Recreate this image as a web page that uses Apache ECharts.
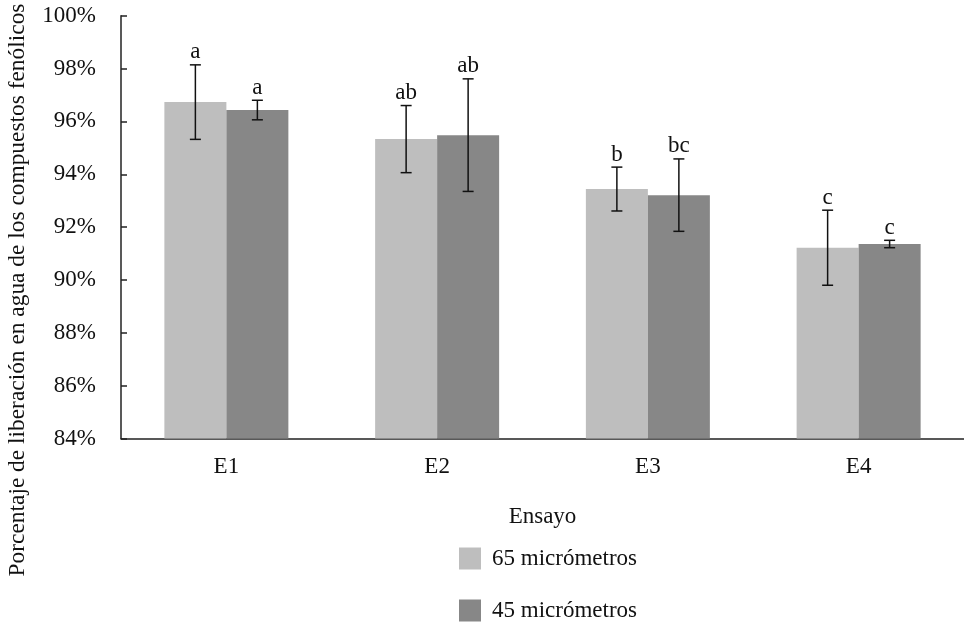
<!DOCTYPE html>
<html>
<head>
<meta charset="utf-8">
<script src="https://cdn.jsdelivr.net/npm/echarts@6/dist/echarts.min.js"></script>
<style>
  html, body { margin: 0; padding: 0; background: #fff; }
  #chart { width: 964px; height: 623px; }
</style>
</head>
<body>
<div id="chart"></div>
<script>
// Ensayos y medias de liberación (%) con su desviación
const categories = ['E1', 'E2', 'E3', 'E4'];
const series65 = [96.73, 95.33, 93.44, 91.22];
const error65 = [1.41, 1.27, 0.83, 1.42];
const letters65 = ['a', 'ab', 'b', 'c'];
const series45 = [96.43, 95.48, 93.21, 91.36];
const error45 = [0.37, 2.13, 1.37, 0.14];
const letters45 = ['a', 'ab', 'bc', 'c'];
const yTicks = [84, 86, 88, 90, 92, 94, 96, 98, 100];

const FONT = '"Liberation Serif", "DejaVu Serif", serif';
const BAR_W = 62;
const FS = 23;

function errorSeries(name, means, errs, letters, offset) {
  return {
    name: name + ' error',
    type: 'custom',
    z: 5,
    data: means.map((m, i) => [i, m, errs[i], letters[i]]),
    encode: { x: 0, y: 1 },
    renderItem: function (params, api) {
      const i = api.value(0);
      const m = api.value(1);
      const e = api.value(2);
      const letter = letters[i];
      const top = api.coord([i, m + e]);
      const bot = api.coord([i, m - e]);
      const x = top[0] + offset;
      const cap = 5.5;
      const st = { stroke: '#111', lineWidth: 1.5 };
      return {
        type: 'group',
        children: [
          { type: 'line', shape: { x1: x, y1: top[1], x2: x, y2: bot[1] }, style: st },
          { type: 'line', shape: { x1: x - cap, y1: top[1], x2: x + cap, y2: top[1] }, style: st },
          { type: 'line', shape: { x1: x - cap, y1: bot[1], x2: x + cap, y2: bot[1] }, style: st },
          {
            type: 'text',
            style: {
              text: letter, x: x, y: top[1] - 1,
              textAlign: 'center', textVerticalAlign: 'bottom',
              align: 'center', verticalAlign: 'bottom',
              fill: '#111', font: FS + 'px ' + FONT
            }
          }
        ]
      };
    },
    tooltip: { show: false }
  };
}

function legendItem(name, top) {
  return {
    data: [name],
    orient: 'vertical',
    left: 454, top: top,
    itemWidth: 22, itemHeight: 22,
    icon: 'rect',
    textStyle: { fontFamily: FONT, fontSize: FS, color: '#111', padding: [0, 0, 0, 6] }
  };
}

const chart = echarts.init(document.getElementById('chart'), null, { renderer: 'canvas' });
chart.setOption({
  animation: false,
  backgroundColor: '#ffffff',
  textStyle: { fontFamily: FONT },
  grid: { left: 121, top: 15.7, width: 847, height: 422.8, containLabel: false },
  legend: [
    legendItem('65 micrómetros', 542),
    legendItem('45 micrómetros', 594)
  ],
  xAxis: {
    type: 'category',
    data: categories,
    name: 'Ensayo',
    nameLocation: 'middle',
    nameGap: 67,
    nameTextStyle: { fontFamily: FONT, fontSize: FS, color: '#111' },
    axisLine: { lineStyle: { color: '#222', width: 1.5 } },
    axisTick: { show: false },
    axisLabel: { fontFamily: FONT, fontSize: FS, color: '#111', margin: 17 }
  },
  yAxis: {
    type: 'value',
    min: yTicks[0], max: yTicks[yTicks.length - 1], interval: 2,
    axisLine: { show: true, lineStyle: { color: '#222', width: 1.5 } },
    axisTick: { show: true, inside: true, length: 6, lineStyle: { color: '#222', width: 1.5 } },
    splitLine: { show: false },
    axisLabel: { fontFamily: FONT, fontSize: FS, color: '#111', margin: 25, formatter: v => v + '%' }
  },
  graphic: [{
    type: 'text',
    x: 18, y: 290,
    rotation: Math.PI / 2,
    style: {
      text: 'Porcentaje de liberación en agua de los compuestos fenólicos',
      textAlign: 'center', textVerticalAlign: 'middle',
      align: 'center', verticalAlign: 'middle',
      fill: '#111', font: '23.4px ' + FONT
    }
  }],
  series: [
    {
      name: '65 micrómetros', type: 'bar', data: series65,
      barWidth: BAR_W, barGap: '0%',
      itemStyle: { color: '#bebebe' }
    },
    {
      name: '45 micrómetros', type: 'bar', data: series45,
      barWidth: BAR_W, barGap: '0%',
      itemStyle: { color: '#878787' }
    },
    errorSeries('65', series65, error65, letters65, -BAR_W / 2),
    errorSeries('45', series45, error45, letters45, BAR_W / 2)
  ]
});
</script>
</body>
</html>
